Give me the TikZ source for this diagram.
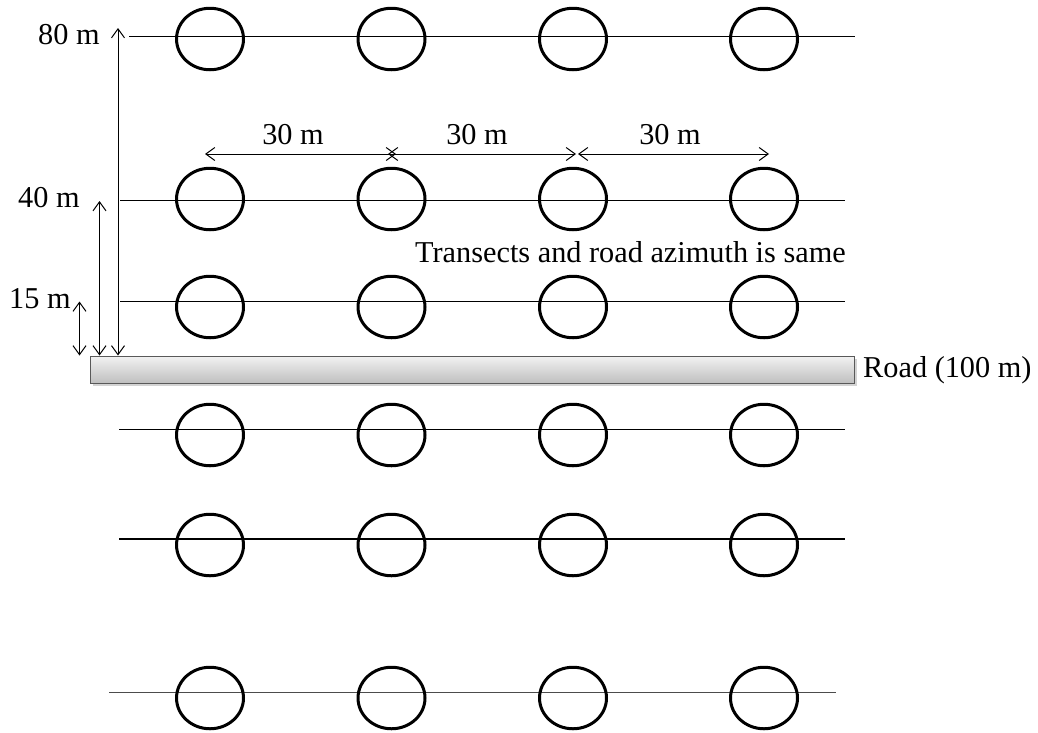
\documentclass[tikz,border=0pt]{standalone}
\usepackage{fontspec}
\setmainfont{Liberation Serif}
\usetikzlibrary{arrows.meta,shapes.geometric,shadows}
\begin{document}
\begin{tikzpicture}[x=1pt,y=-1pt,
  plotc/.style={ellipse,draw,line width=3pt,minimum width=67pt,minimum height=61.5pt,inner sep=0pt},
  tline/.style={line width=1.3pt},
  dimarrow/.style={line width=1pt,{Straight Barb[length=9pt,width=13pt]}-{Straight Barb[length=9pt,width=13pt]}},
  lbl/.style={font=\fontsize{30.3}{35}\selectfont,inner sep=0pt},
  roadbox/.style={draw=black!65,line width=1pt,top color=black!5,bottom color=black!25,
    minimum width=764pt,minimum height=27pt,inner sep=0pt,
    drop shadow={shadow xshift=2pt,shadow yshift=-2.5pt,opacity=0.35}}]
\useasboundingbox (0,0) rectangle (1038,732);
% transects and plots
\foreach \r/\ly/\cy/\xa/\xb/\col in {1/36.5/39/129/855/black,2/200.5/199/120/845/black,3/301.5/307/120/845/black,4/429.5/435/119/845/black,5/539/545/119/845/black,6/692.5/698/109/836/black!70}{
  \coordinate (L\r a) at (\xa,\ly);
  \coordinate (L\r b) at (\xb,\ly);
  \draw[tline,draw=\col] (L\r a) -- (L\r b);
  \foreach \c/\cx in {1/210,2/391.5,3/573,4/764}{
    \node[plotc] (P\r\c) at (\cx,\cy) {};
  }
}
% road
\node[roadbox] (road) at (472.5,369.5) {};
\node[lbl,anchor=base west] (roadlbl) at (863,377) {Road (100 m)};
% vertical dimension arrows
\coordinate (d80t) at (118,28);
\coordinate (d80b) at (118,355.5);
\coordinate (d40t) at (99.5,201);
\coordinate (d40b) at (99.5,355.5);
\coordinate (d15t) at (79.5,301.5);
\coordinate (d15b) at (79.5,355.5);
\draw[dimarrow] (d80b) -- (d80t);
\draw[dimarrow] (d40b) -- (d40t);
\draw[dimarrow] (d15b) -- (d15t);
\node[lbl,anchor=base west] (t80) at (38,44) {80 m};
\node[lbl,anchor=base west] (t40) at (18,207) {40 m};
\node[lbl,anchor=base west] (t15) at (9,308) {15 m};
% horizontal spacing arrows
\coordinate (h0) at (205,154);
\coordinate (h1a) at (396,154);
\coordinate (h1b) at (388,154);
\coordinate (h2a) at (576,154);
\coordinate (h2b) at (578,154);
\coordinate (h3) at (769,154);
\draw[dimarrow] (h0) -- (h1a);
\draw[dimarrow] (h1b) -- (h2a);
\draw[dimarrow] (h2b) -- (h3);
\node[lbl,anchor=base] (s1) at (293,144) {30 m};
\node[lbl,anchor=base] (s2) at (477,144) {30 m};
\node[lbl,anchor=base] (s3) at (670,144) {30 m};
% note
\node[lbl,anchor=base west] (note) at (415,262) {Transects and road azimuth is same};
\end{tikzpicture}
\end{document}
